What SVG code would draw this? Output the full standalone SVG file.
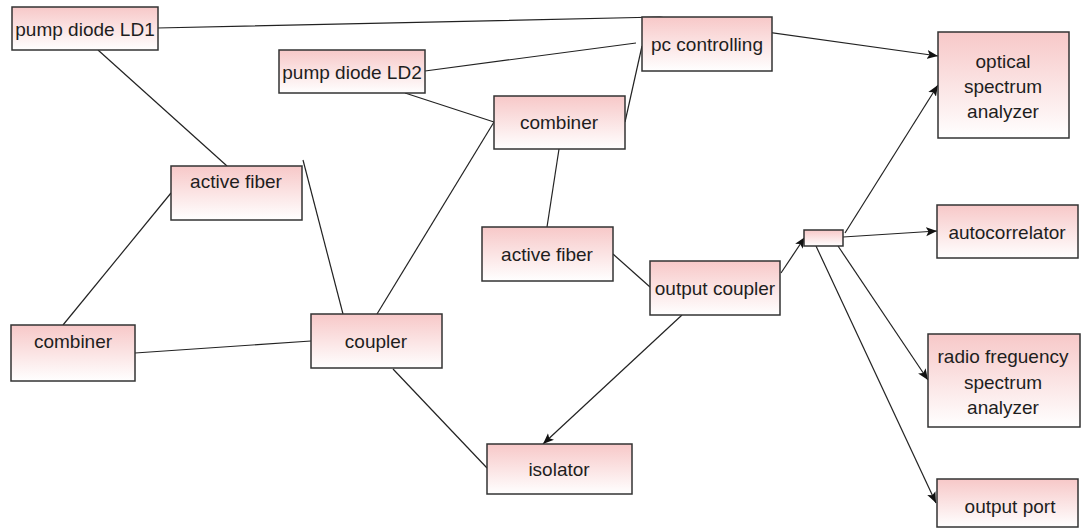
<svg xmlns="http://www.w3.org/2000/svg" width="1082" height="529" viewBox="0 0 1082 529">
  <defs>
    <linearGradient id="boxFill" x1="0" y1="0" x2="0" y2="1">
      <stop offset="0" stop-color="#f7c8c8"/>
      <stop offset="1" stop-color="#ffffff"/>
    </linearGradient>
    <marker id="arrow" viewBox="0 0 11 10" refX="11" refY="5" markerWidth="11" markerHeight="10" markerUnits="userSpaceOnUse" orient="auto">
      <path d="M0,0.5 L11,5 L0,9.5 L2.5,5 Z" fill="#111"/>
    </marker>
  </defs>
  <style>
    .box { fill: url(#boxFill); stroke: #333; stroke-width: 1.5; }
    .lbl { font-family: "Liberation Sans", Arial, sans-serif; font-size: 19px; fill: #1e1e1e; text-anchor: middle; }
    .wire { fill: none; stroke: #222; stroke-width: 1.2; }
    .arr { marker-end: url(#arrow); }
  </style>
  <rect width="1082" height="529" fill="#ffffff"/>

  <g id="connectors">
    <polyline class="wire arr" points="157,28 660,17 938,56"/>
    <line class="wire" x1="98" y1="50" x2="227" y2="166"/>
    <line class="wire" x1="303" y1="160" x2="343" y2="314"/>
    <line class="wire" x1="63" y1="325" x2="171" y2="193"/>
    <line class="wire" x1="135" y1="353" x2="311" y2="341"/>
    <line class="wire" x1="377" y1="314" x2="494" y2="122"/>
    <line class="wire" x1="405" y1="93" x2="494" y2="122"/>
    <line class="wire" x1="425" y1="71" x2="636" y2="43"/>
    <line class="wire" x1="625" y1="122" x2="642" y2="46"/>
    <line class="wire" x1="559" y1="149" x2="547" y2="227"/>
    <line class="wire" x1="613" y1="254" x2="650" y2="287"/>
    <line class="wire arr" x1="682" y1="315" x2="543" y2="444"/>
    <line class="wire" x1="393" y1="369" x2="487" y2="468"/>
    <line class="wire arr" x1="781" y1="273" x2="805" y2="237"/>
    <line class="wire arr" x1="845" y1="233" x2="938" y2="85"/>
    <line class="wire arr" x1="843" y1="237" x2="937" y2="231"/>
    <line class="wire arr" x1="838" y1="246" x2="928" y2="380"/>
    <line class="wire arr" x1="816" y1="246" x2="936" y2="503"/>
  </g>

  <g id="pump-diode-ld1">
    <rect class="box" x="12" y="7" width="146" height="43"/>
    <text class="lbl" x="85" y="36">pump diode LD1</text>
  </g>
  <g id="pump-diode-ld2">
    <rect class="box" x="279" y="50" width="146" height="43"/>
    <text class="lbl" x="352" y="79">pump diode LD2</text>
  </g>
  <g id="pc-controlling">
    <rect class="box" x="642" y="17" width="130" height="54"/>
    <text class="lbl" x="707" y="51">pc controlling</text>
  </g>
  <g id="combiner-top">
    <rect class="box" x="494" y="96" width="131" height="53"/>
    <text class="lbl" x="559" y="129">combiner</text>
  </g>
  <g id="active-fiber-left">
    <rect class="box" x="171" y="166" width="131" height="54"/>
    <text class="lbl" x="236" y="188">active fiber</text>
  </g>
  <g id="combiner-left">
    <rect class="box" x="11" y="325" width="124" height="56"/>
    <text class="lbl" x="73" y="348">combiner</text>
  </g>
  <g id="coupler">
    <rect class="box" x="311" y="314" width="131" height="54"/>
    <text class="lbl" x="376" y="348">coupler</text>
  </g>
  <g id="active-fiber-mid">
    <rect class="box" x="482" y="227" width="131" height="54"/>
    <text class="lbl" x="547" y="261">active fiber</text>
  </g>
  <g id="output-coupler">
    <rect class="box" x="650" y="261" width="130" height="54"/>
    <text class="lbl" x="715" y="295">output coupler</text>
  </g>
  <g id="isolator">
    <rect class="box" x="487" y="444" width="145" height="50"/>
    <text class="lbl" x="559" y="476">isolator</text>
  </g>
  <g id="splitter">
    <rect class="box" x="804" y="230" width="39" height="16"/>
  </g>
  <g id="optical-spectrum-analyzer">
    <rect class="box" x="938" y="32" width="131" height="106"/>
    <text class="lbl" x="1003" y="68">optical</text>
    <text class="lbl" x="1003" y="93">spectrum</text>
    <text class="lbl" x="1003" y="118">analyzer</text>
  </g>
  <g id="autocorrelator">
    <rect class="box" x="937" y="205" width="141" height="53"/>
    <text class="lbl" x="1007" y="239">autocorrelator</text>
  </g>
  <g id="rf-spectrum-analyzer">
    <rect class="box" x="928" y="334" width="152" height="93"/>
    <text class="lbl" x="1003" y="363">radio freguency</text>
    <text class="lbl" x="1003" y="389">spectrum</text>
    <text class="lbl" x="1003" y="414">analyzer</text>
  </g>
  <g id="output-port">
    <rect class="box" x="937" y="479" width="141" height="48"/>
    <text class="lbl" x="1010" y="513">output port</text>
  </g>
</svg>
